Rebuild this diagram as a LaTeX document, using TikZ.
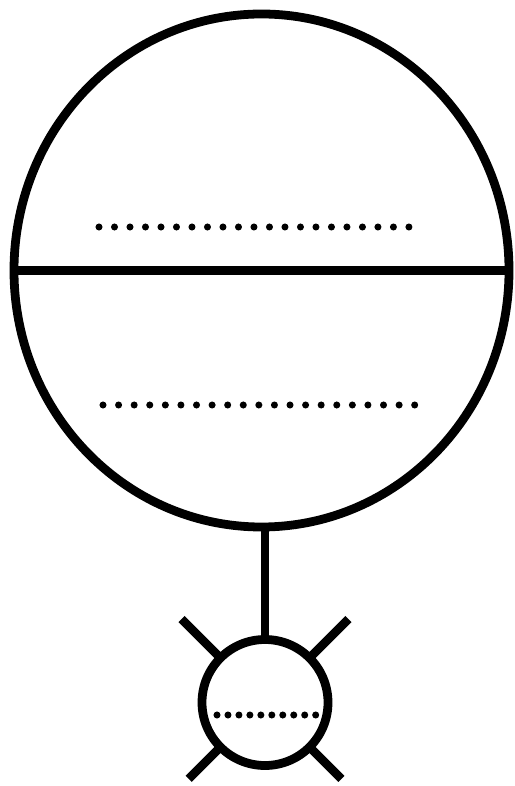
\documentclass[tikz,border=0pt]{standalone}
\usepackage{tikz}
\usetikzlibrary{calc}
\tikzset{
  stroke/.style={line width=5pt},
  dotrow/.style={line width=4pt, line cap=round, dash pattern=on 0pt off #1}
}

\begin{document}
\begin{tikzpicture}[x=0.02cm, y=-0.02cm]
\useasboundingbox (0,0) rectangle (514,786);
% big bulb
\coordinate (bulb) at (261.5,270.5);
\draw[stroke] (bulb) ellipse [x radius=247.5, y radius=256.5];
\draw[stroke] ($(bulb)+(-247.5,0)$) coordinate (bulbW) -- ($(bulb)+(247.5,0)$) coordinate (bulbE);
\coordinate (bulbS) at (265,527);
% dotted rows
\draw[dotrow=8.82pt] (99,227) -- (410.5,227);
\draw[dotrow=8.87pt] (103,405) -- (416.5,405);
% small lamp
\coordinate (lamp) at (265,702.5);
\draw[stroke] (lamp) circle (63);
\coordinate (lampN) at (265,639.5);
\draw[stroke] (bulbS) -- (lampN);
\draw[dotrow=6.24pt] (217,715) -- (316.5,715);
% rays
\draw[stroke] (lamp) ++(-135:63) -- ++(-135:55);
\draw[stroke] (lamp) ++(-45:63) -- ++(-45:55);
\draw[stroke] (lamp) ++(135:63) -- ++(135:45);
\draw[stroke] (lamp) ++(45:63) -- ++(45:45);
\end{tikzpicture}
\end{document}
